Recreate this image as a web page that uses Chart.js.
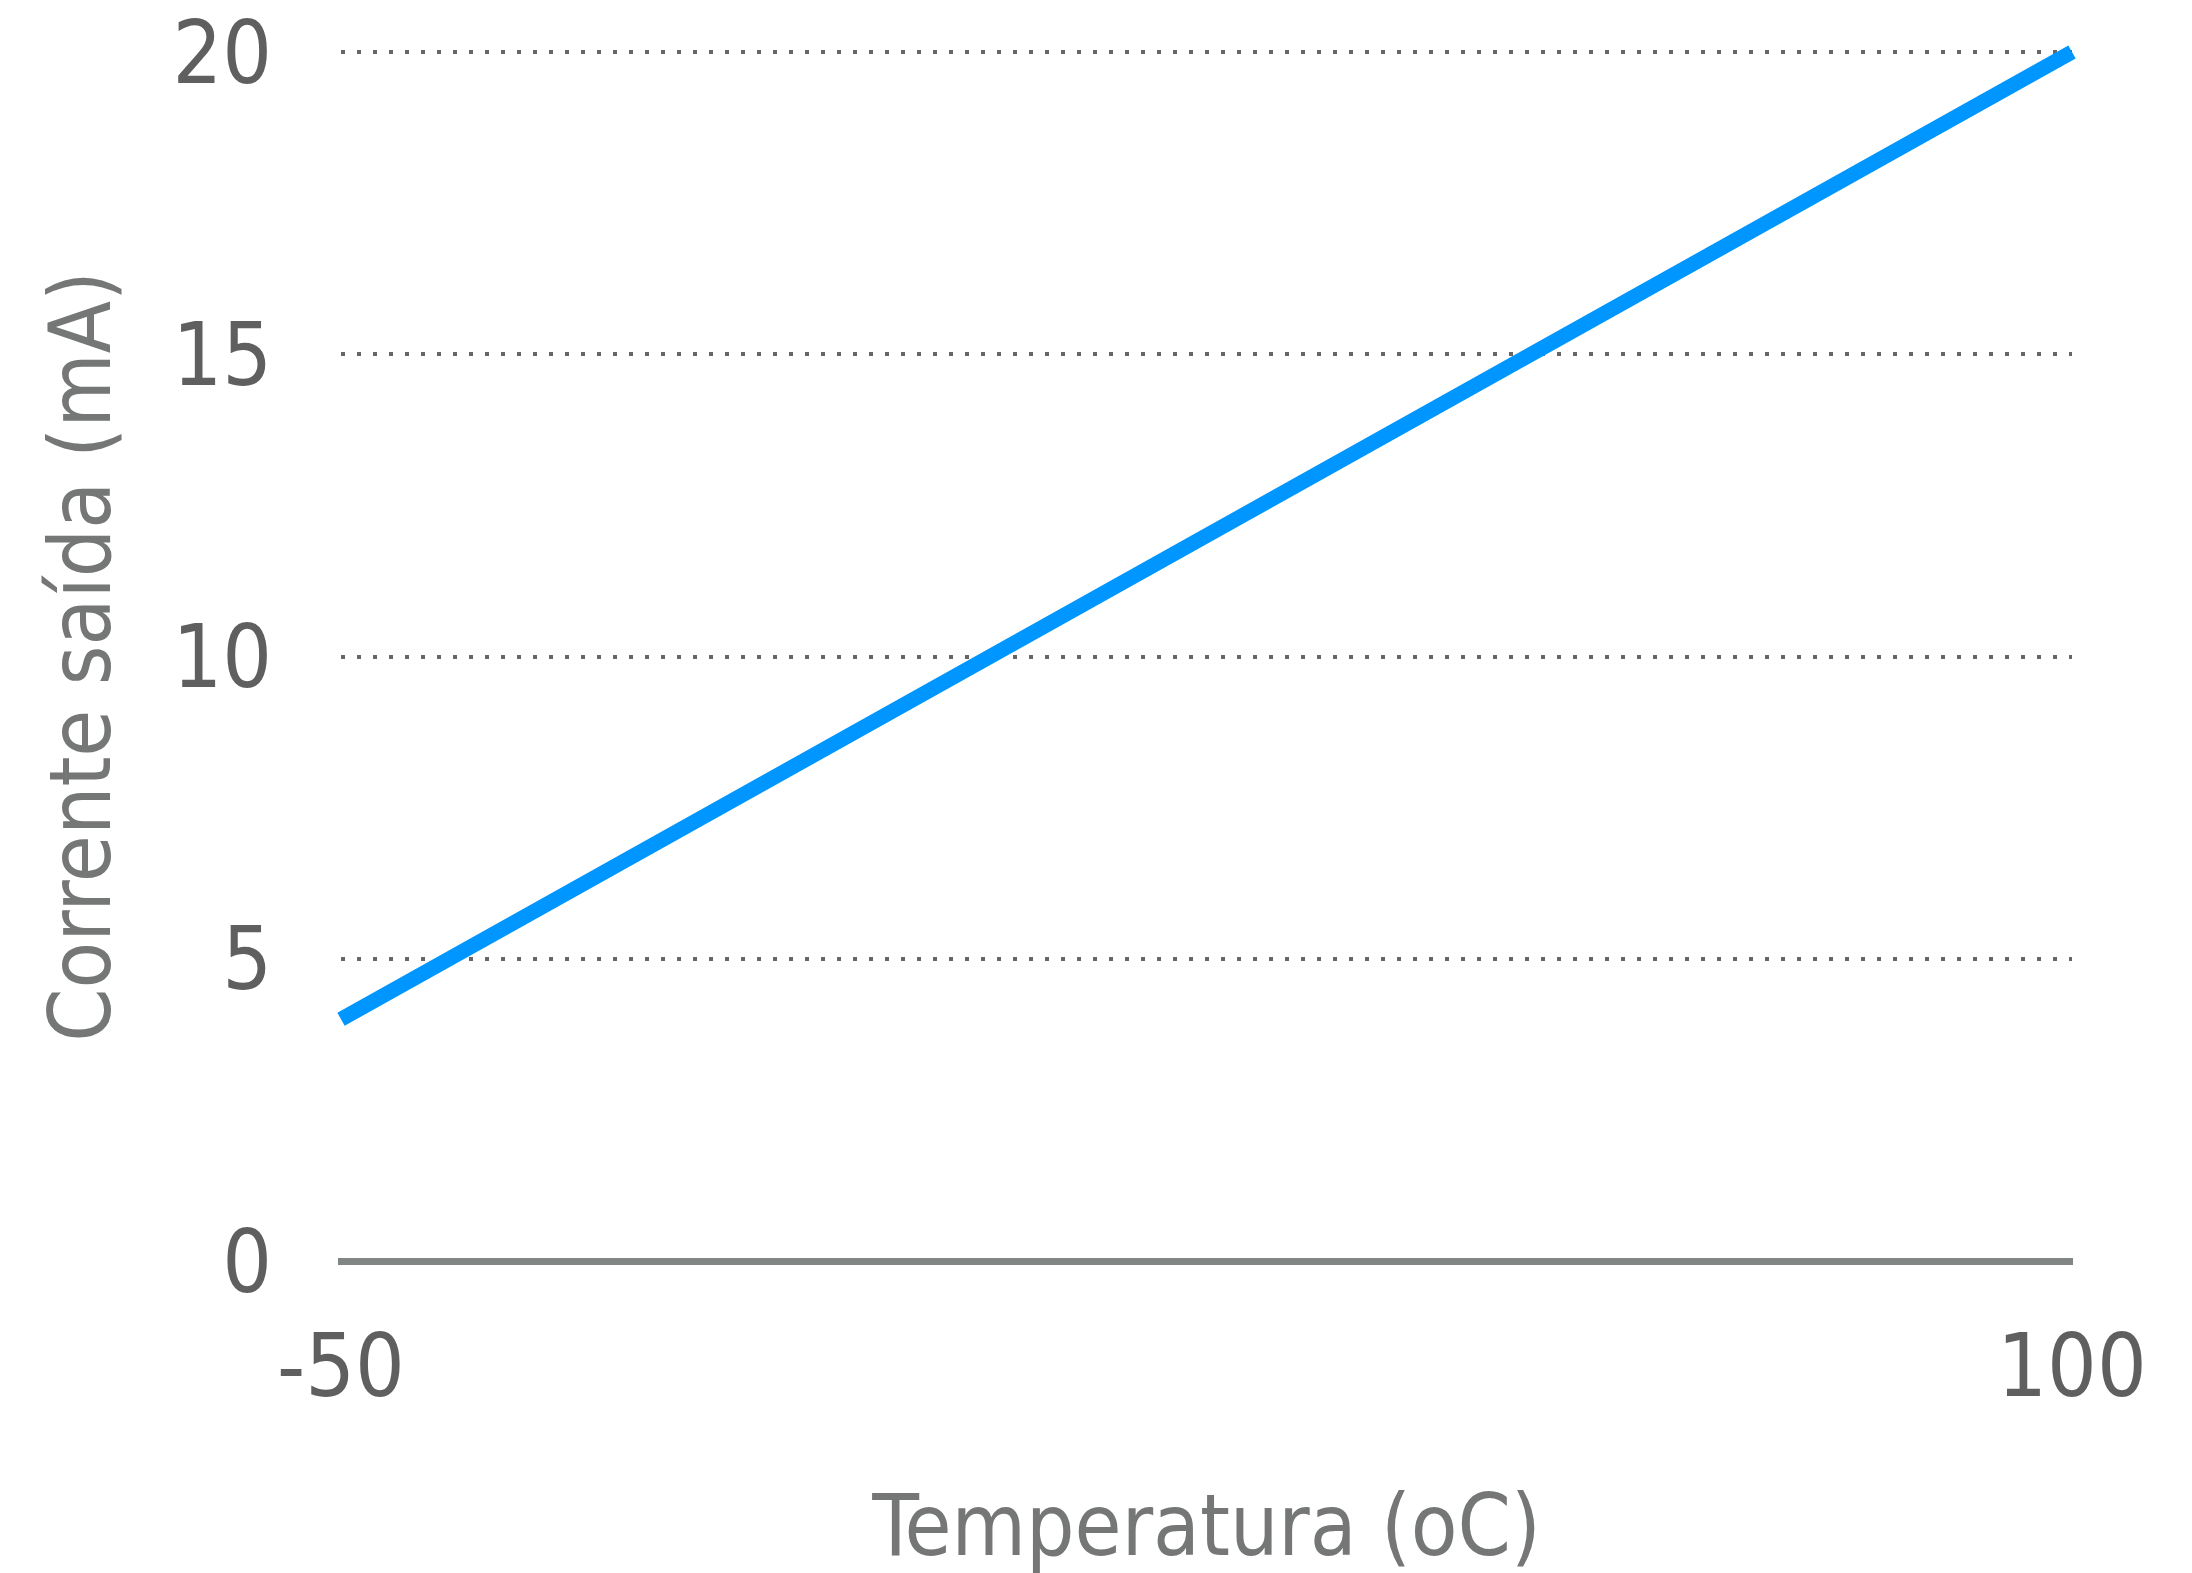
<!DOCTYPE html>
<html>
<head>
<meta charset="utf-8">
<script src="https://cdn.jsdelivr.net/npm/chart.js@4/dist/chart.umd.min.js"></script>
<style>
  html, body { margin: 0; padding: 0; background: #ffffff; }
  #wrap { width: 2192px; height: 1573px; }
</style>
</head>
<body>
<div id="wrap"><canvas id="c" width="2192" height="1573"></canvas></div>
<script>
// ---- data ----
const temperatures = [-50, 100];          // Temperatura (oC)
const currents = [4, 20];                 // Corrente saída (mA)
const xTickValues = [-50, 100];
const yTickValues = [0, 5, 10, 15, 20];
const xTitle = 'Temperatura (oC)';
const yTitle = 'Corrente saída (mA)';

const FONT = "'DejaVu Sans Condensed', 'DejaVu Sans', sans-serif";

const points = temperatures.map((t, i) => ({ x: t, y: currents[i] }));

const zeroPad = (s) => { s.paddingTop = 0; s.paddingBottom = 0; s.paddingLeft = 0; s.paddingRight = 0; };

new Chart(document.getElementById('c'), {
  type: 'line',
  data: {
    datasets: [{
      data: points,
      borderColor: '#0096ff',
      borderWidth: 15,
      pointRadius: 0,
      fill: false,
      tension: 0,
      clip: false
    }]
  },
  options: {
    responsive: false,
    animation: false,
    layout: { padding: { left: 36, right: 0, top: 52, bottom: 0 } },
    plugins: {
      legend: { display: false },
      tooltip: { enabled: false },
      title: { display: false }
    },
    scales: {
      x: {
        type: 'linear',
        min: xTickValues[0],
        max: xTickValues[xTickValues.length - 1],
        afterBuildTicks: (s) => { s.ticks = xTickValues.map(v => ({ value: v })); },
        afterFit: (s) => { s.height = 1573 - 1261; zeroPad(s); },
        grid: { display: false, drawTicks: false },
        border: { display: true, color: '#818685', width: 7 },
        ticks: {
          color: '#5f5f5f',
          padding: 69,
          maxRotation: 0,
          autoSkip: false,
          font: { family: FONT, size: 87, lineHeight: 1 }
        },
        title: {
          display: true,
          text: xTitle,
          color: '#757776',
          font: { family: FONT, size: 85, lineHeight: '76px' },
          padding: { top: 0, bottom: 2 }
        }
      },
      y: {
        type: 'linear',
        position: 'left',
        min: yTickValues[0],
        max: yTickValues[yTickValues.length - 1],
        afterBuildTicks: (s) => { s.ticks = yTickValues.map(v => ({ value: v })); },
        afterFit: (s) => { s.width = 341 - 36; zeroPad(s); },
        grid: {
          drawTicks: false,
          lineWidth: 4,
          color: (ctx) => (ctx.tick && ctx.tick.value === 0) ? 'rgba(0,0,0,0)' : '#666666'
        },
        border: { display: false, dash: [4, 12] },
        ticks: {
          color: '#5f5f5f',
          padding: 69,
          labelOffset: 8,
          font: { family: FONT, size: 87, lineHeight: 1 }
        },
        title: {
          display: true,
          text: yTitle,
          color: '#757776',
          font: { family: FONT, size: 85, lineHeight: 1 },
          padding: { top: 9, bottom: 0 }
        }
      },
      y2: {
        type: 'linear',
        position: 'right',
        display: true,
        afterFit: (s) => { s.width = 120; zeroPad(s); },
        grid: { display: false, drawTicks: false },
        border: { display: false },
        ticks: { display: false }
      }
    }
  }
});
</script>
</body>
</html>
